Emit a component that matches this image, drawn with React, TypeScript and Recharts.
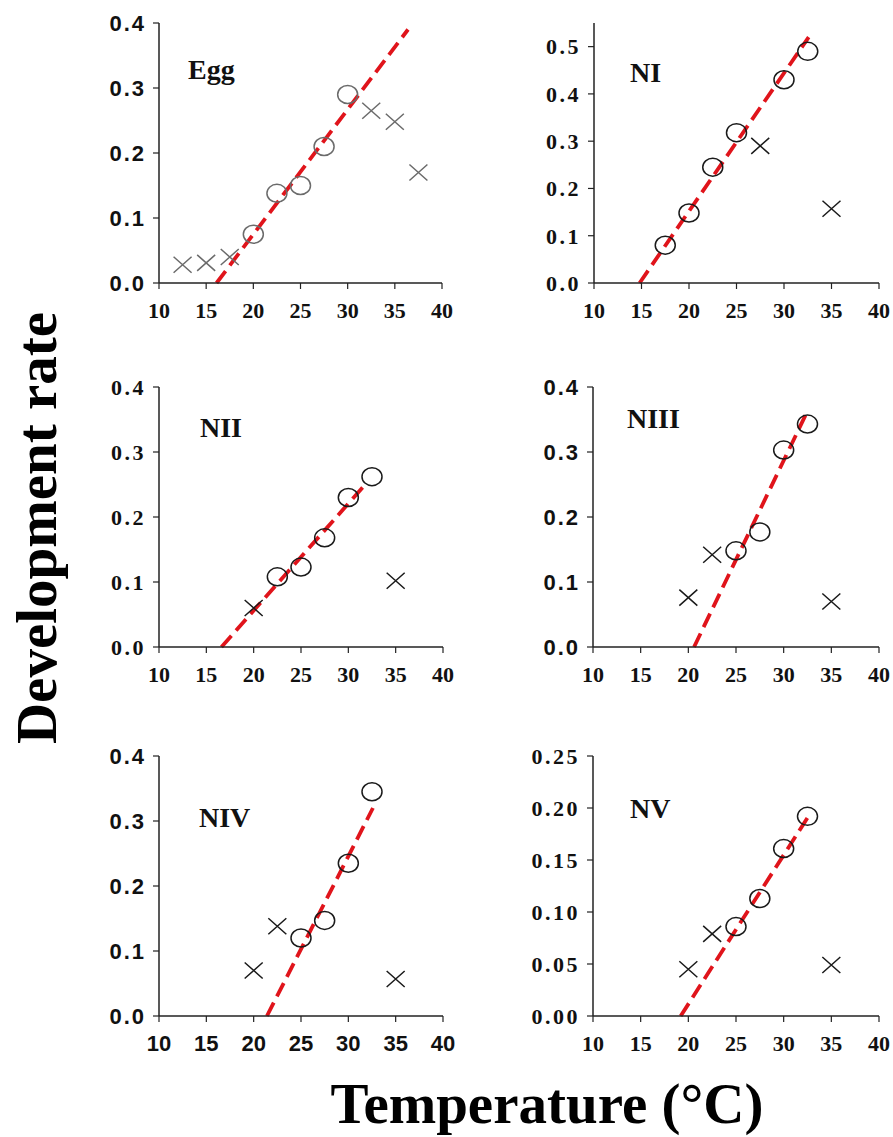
import { ScatterChart, Scatter, XAxis, YAxis, ReferenceLine } from 'recharts';

// temperature ticks shared by all six panels
const xTicks = [10, 15, 20, 25, 30, 35, 40];

// Egg
const eggFitT = [20, 22.5, 25, 27.5, 30];
const eggFitRate = [0.075, 0.138, 0.15, 0.21, 0.29];
const eggOutT = [12.5, 15, 17.5, 32.5, 35, 37.5];
const eggOutRate = [0.028, 0.031, 0.04, 0.265, 0.248, 0.17];
const eggLine = [[16.1, 0], [36.4, 0.39]];

// NI
const n1FitT = [17.5, 20, 22.5, 25, 30, 32.5];
const n1FitRate = [0.08, 0.148, 0.245, 0.318, 0.43, 0.49];
const n1OutT = [27.5, 35];
const n1OutRate = [0.29, 0.157];
const n1Line = [[14.8, 0], [32.6, 0.52]];

// NII
const n2FitT = [22.5, 25, 27.5, 30, 32.5];
const n2FitRate = [0.108, 0.123, 0.168, 0.23, 0.262];
const n2OutT = [20, 35];
const n2OutRate = [0.06, 0.102];
const n2Line = [[16.6, 0], [31.9, 0.252]];

// NIII
const n3FitT = [25, 27.5, 30, 32.5];
const n3FitRate = [0.148, 0.177, 0.303, 0.343];
const n3OutT = [20, 22.5, 35];
const n3OutRate = [0.076, 0.142, 0.07];
const n3Line = [[20.6, 0], [32.4, 0.36]];

// NIV
const n4FitT = [25, 27.5, 30, 32.5];
const n4FitRate = [0.12, 0.147, 0.235, 0.345];
const n4OutT = [20, 22.5, 35];
const n4OutRate = [0.07, 0.138, 0.057];
const n4Line = [[21.4, 0], [32.6, 0.32]];

// NV
const n5FitT = [25, 27.5, 30, 32.5];
const n5FitRate = [0.086, 0.113, 0.161, 0.192];
const n5OutT = [20, 22.5, 35];
const n5OutRate = [0.045, 0.079, 0.049];
const n5Line = [[19.2, 0], [32.6, 0.192]];

const tick4 = [0, 0.1, 0.2, 0.3, 0.4];
const tick5 = [0, 0.1, 0.2, 0.3, 0.4, 0.5];
const tick25 = [0, 0.05, 0.1, 0.15, 0.2, 0.25];

const SERIF = '"Liberation Serif", "Times New Roman", serif';
const SANS = '"Liberation Sans", Arial, sans-serif';
const RED = '#e0141b';

const pts = (t: number[], r: number[]) => t.map((x, i) => ({ t: x, r: r[i] }));

const panels = [
  { name: 'Egg', left: 159, right: 442, top: 23, bottom: 283, domain: [0, 0.4], yTicks: tick4, digits: 1,
    yFont: SANS, xFont: SERIF, ink: '#6b6b6b', fit: pts(eggFitT, eggFitRate), out: pts(eggOutT, eggOutRate), line: eggLine, lx: 188, ly: 79 },
  { name: 'NI', left: 594, right: 879, top: 23, bottom: 283, domain: [0, 0.55], yTicks: tick5, digits: 1,
    yFont: SERIF, xFont: SERIF, ink: '#1a1a1a', fit: pts(n1FitT, n1FitRate), out: pts(n1OutT, n1OutRate), line: n1Line, lx: 630, ly: 82 },
  { name: 'NII', left: 159, right: 443, top: 387, bottom: 647, domain: [0, 0.4], yTicks: tick4, digits: 1,
    yFont: SERIF, xFont: SERIF, ink: '#1a1a1a', fit: pts(n2FitT, n2FitRate), out: pts(n2OutT, n2OutRate), line: n2Line, lx: 200, ly: 437 },
  { name: 'NIII', left: 593, right: 879, top: 387, bottom: 647, domain: [0, 0.4], yTicks: tick4, digits: 1,
    yFont: SANS, xFont: SERIF, ink: '#1a1a1a', fit: pts(n3FitT, n3FitRate), out: pts(n3OutT, n3OutRate), line: n3Line, lx: 627, ly: 428 },
  { name: 'NIV', left: 159, right: 443, top: 756, bottom: 1016, domain: [0, 0.4], yTicks: tick4, digits: 1,
    yFont: SANS, xFont: SANS, ink: '#1a1a1a', fit: pts(n4FitT, n4FitRate), out: pts(n4OutT, n4OutRate), line: n4Line, lx: 199, ly: 827 },
  { name: 'NV', left: 593, right: 879, top: 756, bottom: 1016, domain: [0, 0.25], yTicks: tick25, digits: 2,
    yFont: SERIF, xFont: SERIF, ink: '#1a1a1a', fit: pts(n5FitT, n5FitRate), out: pts(n5OutT, n5OutRate), line: n5Line, lx: 630, ly: 818 },
];

const PL = 75, PR = 14, PT = 20, PB = 45;

function Panel({ p }: { p: any }) {
  const w = p.right - p.left;
  const h = p.bottom - p.top;
  const ring = (props: any) => (
    <ellipse cx={props.cx} cy={props.cy} rx={10} ry={9} fill="none" stroke={p.ink} strokeWidth={1.5} />
  );
  const cross = (props: any) => (
    <path
      d={`M${props.cx - 9},${props.cy - 8}L${props.cx + 9},${props.cy + 8}M${props.cx - 9},${props.cy + 8}L${props.cx + 9},${props.cy - 8}`}
      stroke={p.ink}
      strokeWidth={1.5}
      fill="none"
    />
  );
  const ySpacing = p.yFont === SANS ? 2 : 2.5;
  return (
    <div style={{ position: 'absolute', left: p.left - PL, top: p.top - PT }}>
      <ScatterChart width={w + PL + PR} height={h + PT + PB} margin={{ top: PT, right: PR, left: 0, bottom: 0 }}>
        <XAxis
          type="number"
          dataKey="t"
          domain={[10, 40]}
          ticks={xTicks}
          interval={0}
          height={PB}
          tickMargin={13}
          axisLine={{ stroke: '#222', strokeWidth: 1.5 }}
          tickLine={{ stroke: '#222', strokeWidth: 1.2 }}
          tick={{ fill: '#111', fontSize: 22, fontWeight: 700, fontFamily: p.xFont }}
        />
        <YAxis
          type="number"
          dataKey="r"
          domain={p.domain}
          ticks={p.yTicks}
          interval={0}
          width={PL}
          tickMargin={7}
          tickFormatter={(v: number) => v.toFixed(p.digits)}
          axisLine={{ stroke: '#222', strokeWidth: 1.5 }}
          tickLine={{ stroke: '#222', strokeWidth: 1.2 }}
          tick={{ fill: '#111', fontSize: 22, fontWeight: 700, fontFamily: p.yFont, letterSpacing: ySpacing }}
        />
        <ReferenceLine
          segment={[{ x: p.line[0][0], y: p.line[0][1] }, { x: p.line[1][0], y: p.line[1][1] }]}
          stroke={RED}
          strokeWidth={3.8}
          strokeDasharray="15 7"
        />
        <Scatter data={p.fit} shape={ring} isAnimationActive={false} />
        <Scatter data={p.out} shape={cross} isAnimationActive={false} />
      </ScatterChart>
    </div>
  );
}

export default function App() {
  return (
    <div style={{ position: 'absolute', left: 0, top: 0, width: 893, height: 1137, background: '#fff', overflow: 'hidden' }}>
      {panels.map((p) => (
        <Panel key={p.name} p={p} />
      ))}
      <svg width={893} height={1137} style={{ position: 'absolute', left: 0, top: 0, pointerEvents: 'none' }}>
        {panels.map((p) => (
          <text key={p.name} x={p.lx} y={p.ly} fontFamily={SERIF} fontWeight={700} fontSize={28} fill="#111">
            {p.name}
          </text>
        ))}
        <text
          x={56}
          y={528}
          transform="rotate(-90 56 528)"
          textAnchor="middle"
          fontFamily={SERIF}
          fontWeight={700}
          fontSize={57}
          fill="#000"
        >
          Development rate
        </text>
        <text x={547} y={1123} textAnchor="middle" fontFamily={SERIF} fontWeight={700} fontSize={57} fill="#000">
          Temperature (°C)
        </text>
      </svg>
    </div>
  );
}
